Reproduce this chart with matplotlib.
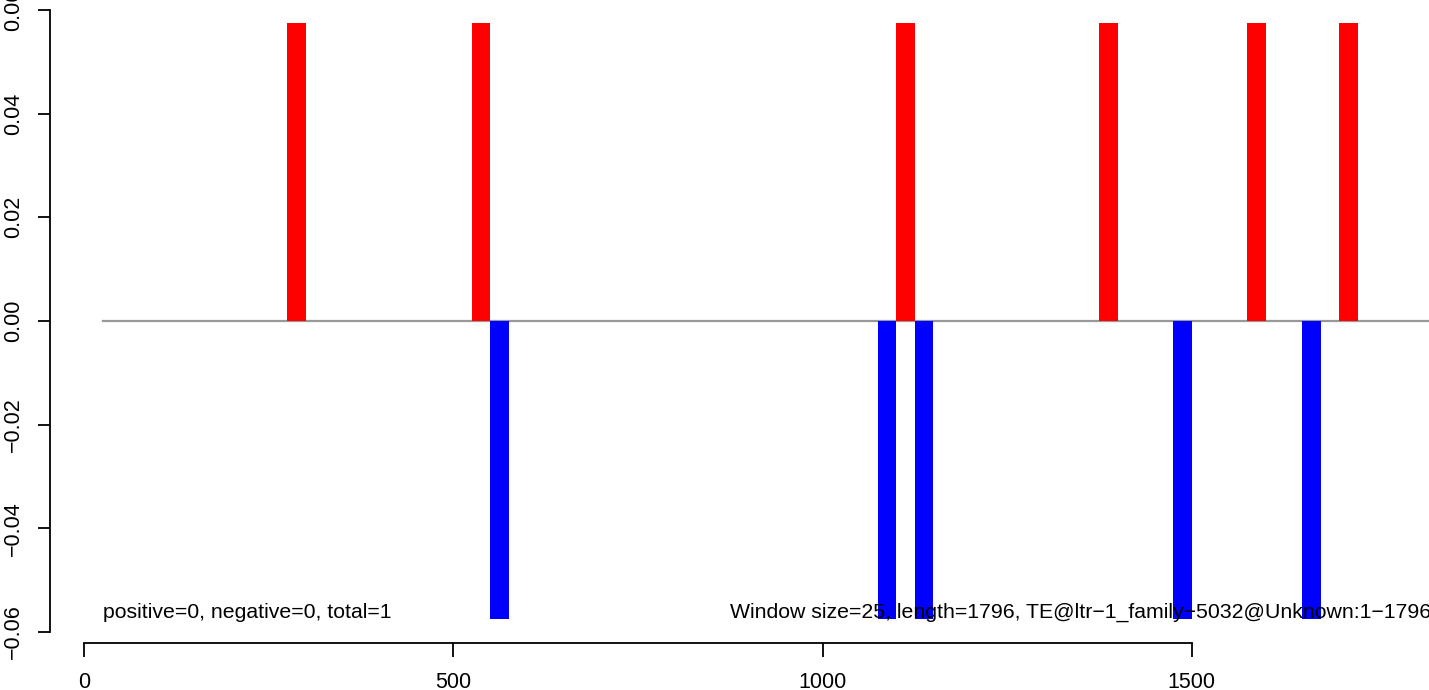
import matplotlib.pyplot as plt

plt.rcParams['font.family'] = ['Liberation Sans', 'DejaVu Sans']
plt.rcParams['axes.unicode_minus'] = True

window = 25
length = 1796
bar_height = 0.0575

# window start positions for the up (red) and down (blue) hits
pos_starts = [275, 525, 1100, 1375, 1575, 1700]
neg_starts = [550, 1075, 1125, 1475, 1650]

left_note = "positive=0, negative=0, total=1"
right_note = "Window size=25, length=1796, TE@ltr\u22121_family\u22125032@Unknown:1\u22121796"

W, H = 1429, 690
fig = plt.figure(figsize=(W / 100, H / 100), dpi=100)
ax = fig.add_axes([50 / W, (H - 632) / H, (W - 50) / W, 622 / H])

ax.plot([window, 1830], [0, 0], color='#999999', lw=1.6, zorder=1)
ax.bar(pos_starts, [bar_height] * len(pos_starts), width=window, align='edge',
       color='red', linewidth=0, zorder=2)
ax.bar(neg_starts, [-bar_height] * len(neg_starts), width=window, align='edge',
       color='blue', linewidth=0, zorder=2)

ax.text(window, -0.0562, left_note, fontsize=15.3, va='center', ha='left')
ax.text(874, -0.0562, right_note, fontsize=15.3, va='center', ha='left', clip_on=False)

ax.set_xlim(-46.5, 1821.4)
ax.set_ylim(-0.06, 0.06)

for s in ['top', 'right']:
    ax.spines[s].set_visible(False)
ax.spines['bottom'].set_position(('outward', 8))
ax.spines['bottom'].set_bounds(0, 1500)
ax.spines['left'].set_bounds(-0.06, 0.06)
for s in ['bottom', 'left']:
    ax.spines[s].set_linewidth(1.3)

ax.set_xticks([0, 500, 1000, 1500])
ax.set_xticklabels(['0', '500', '1000', '1500'])
yt = [-0.06, -0.04, -0.02, 0.0, 0.02, 0.04, 0.06]
ax.set_yticks(yt)
ax.set_yticklabels([f"{v:.2f}".replace('-', '\u2212') for v in yt],
                   rotation=90, va='center')
ax.tick_params(axis='x', length=10, width=1.3, pad=11, labelsize=15.5)
ax.tick_params(axis='y', length=8.5, width=1.3, pad=10, labelsize=15.5)

fig.savefig('out.png', dpi=100)
